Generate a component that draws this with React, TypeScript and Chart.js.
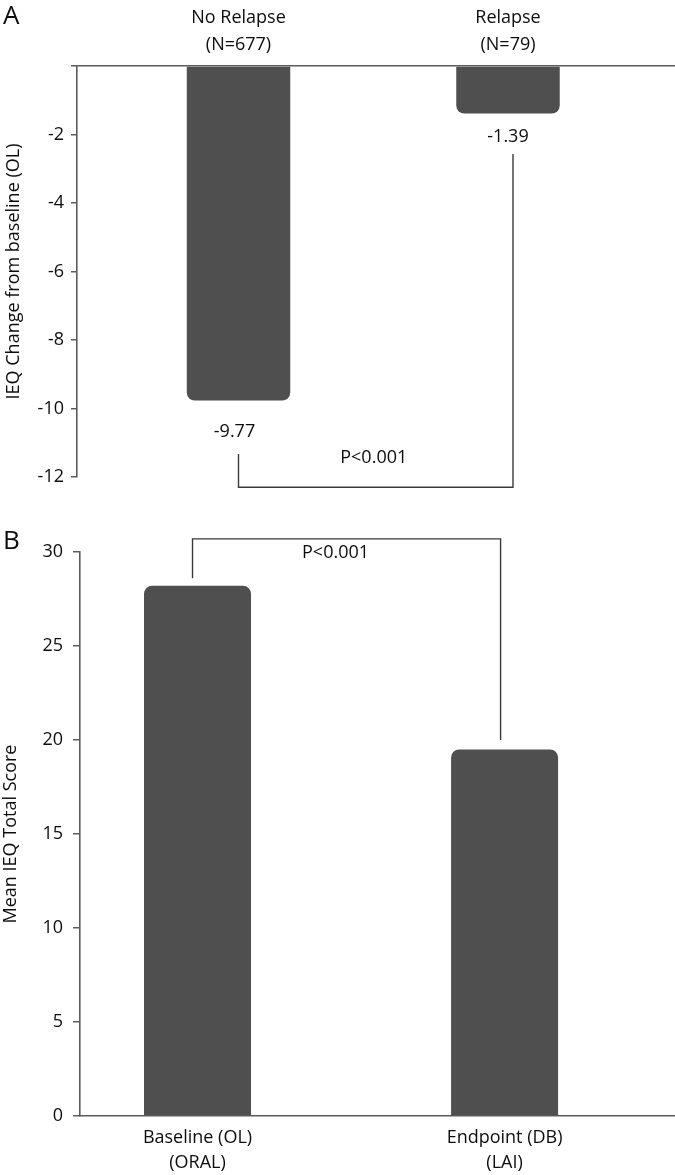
import React, { useEffect, useRef } from "react";
import { Chart, registerables } from "chart.js";

Chart.register(...registerables);

const FONT = "'Open Sans', 'DejaVu Sans', sans-serif";
const TEXT = "#0d0d0d";
const AXIS = "#5c5c5c";
const BAR = "#4f4f4f";

// ---------- Panel A ----------
const groupsA: string[][] = [["No Relapse", "(N=677)"], ["Relapse", "(N=79)"]];
const changeA: number[] = [-9.77, -1.39];
const valueLabelsA: string[] = ["-9.77", "-1.39"];
const yMinA = -12;
const yMaxA = 0;
const yStepA = 2;
const pTextA = "P<0.001";
const bracketLevelA = -12.3;
const bracketEndsA: number[] = [-11.33, -2.57];

// ---------- Panel B ----------
const groupsB: string[][] = [["Baseline (OL)", "(ORAL)"], ["Endpoint (DB)", "(LAI)"]];
const scoreB: number[] = [28.2, 19.5];
const yMinB = 0;
const yMaxB = 30;
const yStepB = 5;
const pTextB = "P<0.001";
const bracketLevelB = 30.7;
const bracketEndsB: number[] = [28.6, 20.0];

const annotatePlugin = {
  id: "annotate",
  afterDatasetsDraw(chart: any, _args: any, opts: any) {
    const { ctx } = chart;
    const xs = chart.scales.x;
    const ys = chart.scales.y;
    ctx.save();
    ctx.fillStyle = TEXT;
    // panel letter
    ctx.font = `26px ${FONT}`;
    ctx.textAlign = "left";
    ctx.textBaseline = "alphabetic";
    ctx.fillText(opts.letter, opts.letterX, opts.letterY);
    // value labels
    ctx.font = `18px ${FONT}`;
    ctx.textAlign = "center";
    ctx.textBaseline = "middle";
    (opts.values || []).forEach((v: number, i: number) => {
      const px = xs.getPixelForValue(i) + (opts.valueDx ? opts.valueDx[i] : 0);
      const py = ys.getPixelForValue(v) + opts.valueDy[i];
      ctx.fillText(opts.valueLabels[i], px, py);
    });
    // bracket
    ctx.strokeStyle = "#3a3a3a";
    ctx.lineWidth = 1.4;
    const xa = xs.getPixelForValue(0) + opts.bracketDx[0];
    const xb = xs.getPixelForValue(1) + opts.bracketDx[1];
    const yl = ys.getPixelForValue(opts.level);
    ctx.beginPath();
    ctx.moveTo(xa, ys.getPixelForValue(opts.ends[0]));
    ctx.lineTo(xa, yl);
    ctx.lineTo(xb, yl);
    ctx.lineTo(xb, ys.getPixelForValue(opts.ends[1]));
    ctx.stroke();
    ctx.fillText(opts.pText, (xa + xb) / 2 + opts.pDx, yl + opts.pDy);
    ctx.restore();
  },
};

function makeConfig(p: any): any {
  return {
    type: "bar",
    data: {
      datasets: [
        {
          data: p.values.map((v: number, i: number) => ({ x: i, y: v })),
          backgroundColor: BAR,
          borderWidth: 0,
          borderRadius: 8,
          borderSkipped: "start",
          categoryPercentage: 1,
          barPercentage: p.barPct,
        },
      ],
    },
    plugins: [annotatePlugin],
    options: {
      animation: false,
      responsive: false,
      maintainAspectRatio: false,
      layout: { padding: p.padding },
      plugins: {
        legend: { display: false },
        tooltip: { enabled: false },
        annotate: p.annot,
      },
      scales: {
        x: {
          type: "linear",
          position: p.xPos,
          min: p.xMin,
          max: p.xMax,
          bounds: "data",
          offset: false,
          afterBuildTicks: (s: any) => {
            s.ticks = p.groups.map((_: any, i: number) => ({ value: i }));
          },
          afterFit: (s: any) => {
            s.height = p.xHeight;
          },
          grid: { display: false, drawTicks: false },
          border: { display: true, color: AXIS, width: 1.6 },
          ticks: {
            autoSkip: false,
            maxRotation: 0,
            padding: p.xPad,
            color: TEXT,
            font: { family: FONT, size: 18, lineHeight: p.xLh },
            callback: (v: number) => p.groups[v] ?? "",
          },
        },
        y: {
          min: p.yMin,
          max: p.yMax,
          afterFit: (s: any) => {
            s.width = p.yWidth;
          },
          grid: {
            display: true,
            drawOnChartArea: false,
            drawTicks: true,
            tickLength: p.tickLen,
            color: AXIS,
            lineWidth: 1.5,
          },
          border: { display: true, color: AXIS, width: 1.6 },
          ticks: {
            stepSize: p.yStep,
            padding: p.yPad,
            color: TEXT,
            font: { family: FONT, size: 18 },
            callback: (v: number) => (p.hideZero && v === 0 ? "" : String(v)),
          },
          title: {
            display: true,
            text: p.yTitle,
            color: TEXT,
            font: { family: FONT, size: 18 },
            padding: { top: p.titlePad, bottom: 0 },
          },
        },
      },
    },
  };
}

function ChartCanvas({ cfg, width, height }: { cfg: any; width: number; height: number }) {
  const ref = useRef<HTMLCanvasElement | null>(null);
  useEffect(() => {
    if (!ref.current) return;
    const chart = new Chart(ref.current, cfg);
    return () => chart.destroy();
  }, []);
  return <canvas ref={ref} width={width} height={height} style={{ display: "block", width, height }} />;
}

export default function App() {
  const cfgA = makeConfig({
    values: changeA,
    groups: groupsA,
    barPct: 0.384,
    xPos: "top",
    xMin: -0.5993,
    xMax: 1.6197,
    xHeight: 66,
    xPad: 7.5,
    xLh: 1.5,
    yMin: yMinA,
    yMax: yMaxA,
    yStep: yStepA,
    yWidth: 77,
    tickLen: 6,
    yPad: 7,
    hideZero: true,
    yTitle: "IEQ Change from baseline (OL)",
    titlePad: 3,
    padding: { top: 0, left: 0, right: 0, bottom: 28 },
    annot: {
      letter: "A",
      letterX: 3,
      letterY: 24,
      values: changeA,
      valueLabels: valueLabelsA,
      valueDx: [-4, 0],
      valueDy: [31, 23],
      level: bracketLevelA,
      ends: bracketEndsA,
      bracketDx: [0, 5],
      pText: pTextA,
      pDx: -2,
      pDy: -29,
    },
  });
  const cfgB = makeConfig({
    values: scoreB,
    groups: groupsB,
    barPct: 0.3485,
    xPos: "bottom",
    xMin: -0.3827,
    xMax: 1.555,
    xHeight: 59,
    xPad: 9.5,
    xLh: 1.39,
    yMin: yMinB,
    yMax: yMaxB,
    yStep: yStepB,
    yWidth: 80,
    tickLen: 7,
    yPad: 10,
    hideZero: false,
    yTitle: "Mean IEQ Total Score",
    titlePad: 0,
    padding: { top: 47, left: 0, right: 0, bottom: 0 },
    annot: {
      letter: "B",
      letterX: 3,
      letterY: 44,
      values: [],
      valueLabels: [],
      valueDy: [],
      level: bracketLevelB,
      ends: bracketEndsB,
      bracketDx: [-5, -4],
      pText: pTextB,
      pDx: -11,
      pDy: 14,
    },
  });
  return (
    <div style={{ position: "absolute", left: 0, top: 0, width: 675, height: 1175, background: "#fff" }}>
      <ChartCanvas cfg={cfgA} width={675} height={505} />
      <ChartCanvas cfg={cfgB} width={675} height={670} />
    </div>
  );
}
